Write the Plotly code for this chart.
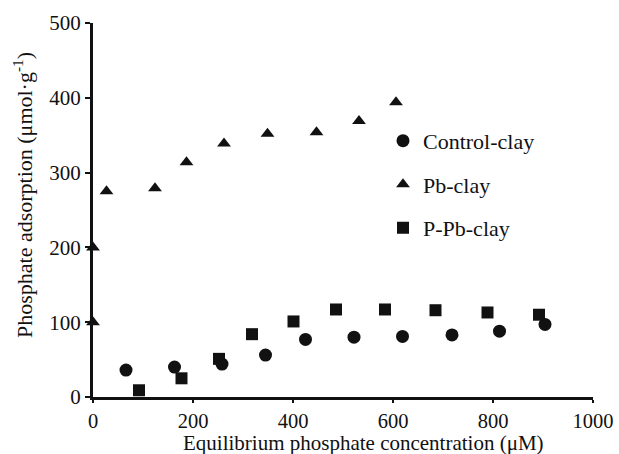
import plotly.graph_objects as go

# Data
control_x = [66, 163, 258, 345, 425, 522, 619, 718, 813, 904]
control_y = [36, 40, 44, 56, 77, 80, 81, 83, 88, 97]

pb_x = [0, 0, 27, 124, 187, 262, 349, 447, 532, 606]
pb_y = [100, 200, 275, 279, 314, 339, 352, 354, 369, 394]

ppb_x = [92, 177, 252, 318, 401, 486, 584, 685, 789, 892]
ppb_y = [9, 25, 51, 84, 101, 117, 117, 116, 113, 110]

x_ticks = [0, 200, 400, 600, 800, 1000]
y_ticks = [0, 100, 200, 300, 400, 500]

FONT = "Liberation Serif"
INK = "#111111"
FS = 22
TICK_FS = 21

fig = go.Figure()
series = [
    ("Control-clay", control_x, control_y, "circle", 13),
    ("Pb-clay", pb_x, pb_y, "triangle-up", 12),
    ("P-Pb-clay", ppb_x, ppb_y, "square", 12),
]
for i, (name, xs, ys, sym, sz) in enumerate(series):
    fig.add_trace(go.Scatter(
        x=xs, y=ys, mode="markers", name=name, legendgroup=f"g{i}",
        marker=dict(symbol=sym, size=sz, color=INK, line=dict(width=0)),
        cliponaxis=False,
    ))

fig.update_layout(
    width=619, height=454,
    margin=dict(l=93, r=26, t=23, b=57),
    paper_bgcolor="white", plot_bgcolor="white",
    font=dict(family=FONT, size=FS, color=INK),
    showlegend=True,
    legend=dict(
        x=0.58, y=0.741, xanchor="left", yanchor="top",
        bgcolor="rgba(0,0,0,0)", borderwidth=0,
        font=dict(family=FONT, size=FS, color=INK),
        tracegroupgap=12, itemwidth=30,
    ),
    xaxis=dict(
        range=[0, 1000], tickvals=x_ticks, ticktext=[str(v) for v in x_ticks],
        showgrid=False, zeroline=False, showline=True, linecolor=INK, linewidth=3,
        ticks="outside", ticklen=3, tickwidth=2, tickcolor=INK,
        tickfont=dict(family=FONT, size=20.5, color=INK), automargin=False,
    ),
    yaxis=dict(
        range=[0, 500], tickvals=y_ticks, ticktext=[str(v) for v in y_ticks],
        showgrid=False, zeroline=False, showline=True, linecolor=INK, linewidth=3,
        ticks="outside", ticklen=5, tickwidth=2, tickcolor=INK,
        tickfont=dict(family=FONT, size=TICK_FS, color=INK), automargin=False,
    ),
    annotations=[
        dict(
            text="Phosphate adsorption (μmol·g<sup>-1</sup>)",
            xref="paper", yref="paper", x=-0.14, y=0.54,
            xanchor="center", yanchor="middle", textangle=-90, showarrow=False,
            font=dict(family=FONT, size=FS, color=INK),
        ),
        dict(
            text="Equilibrium phosphate concentration (μM)",
            xref="paper", yref="paper", x=0.54, y=-0.124,
            xanchor="center", yanchor="middle", showarrow=False,
            font=dict(family=FONT, size=21, color=INK),
        ),
    ],
)

fig.write_html("out.html")
